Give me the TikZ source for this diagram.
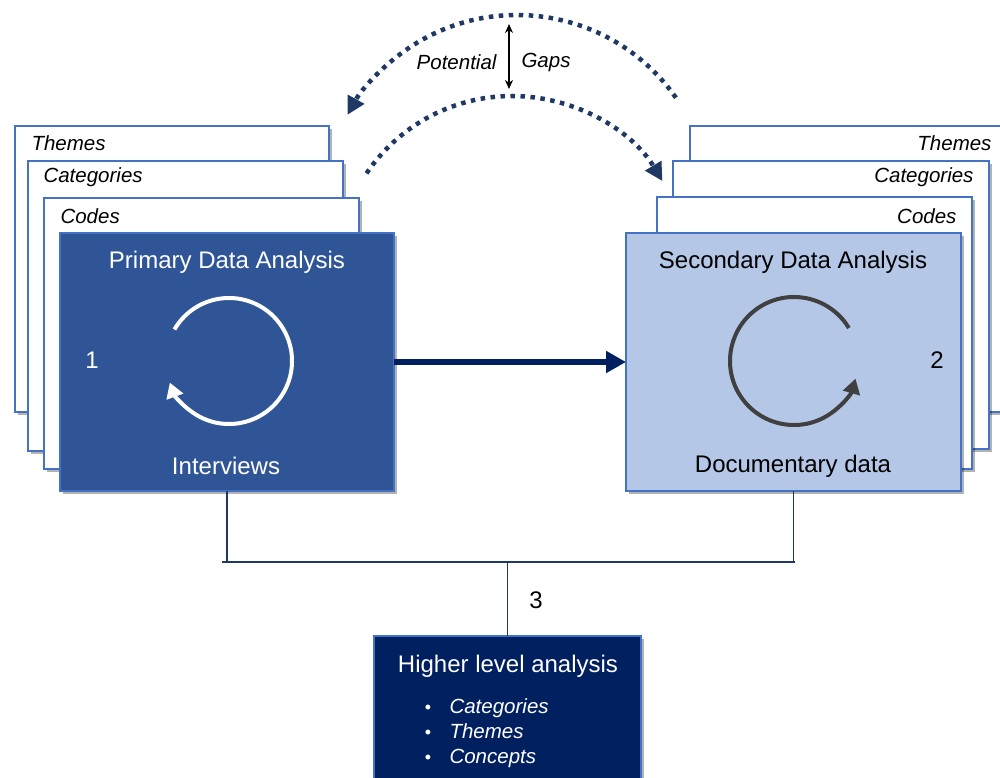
\documentclass[tikz,border=0pt]{standalone}
\usepackage{fontspec}
\setmainfont{Liberation Sans}
\usetikzlibrary{arrows.meta,shadows,calc}
\definecolor{primblue}{HTML}{2F5597}
\definecolor{secblue}{HTML}{B4C7E7}
\definecolor{edgeblue}{HTML}{4472C4}
\definecolor{navy}{HTML}{002060}
\definecolor{dotnavy}{HTML}{203864}
\definecolor{linenavy}{HTML}{1F3864}
\definecolor{loopgray}{HTML}{404040}
\begin{document}
\begin{tikzpicture}[x=1pt,y=1pt,
  sheet/.style={draw=edgeblue, line width=1.5pt, fill=white, inner sep=0pt, outer sep=0pt,
    drop shadow={shadow xshift=3pt, shadow yshift=-3pt, opacity=0.3, fill=black}},
  mainbox/.style={sheet, fill=#1},
  titlefont/.style={font=\fontsize{24}{28}\selectfont},
  labfont/.style={font=\fontsize{20.5}{24}\selectfont\itshape},
  loopline/.style={line width=4pt, -{Triangle[length=15pt,width=17pt]}},
  dotarc/.style={draw=dotnavy, line width=4.5pt, dash pattern=on 4.5pt off 5.5pt,
    -{Triangle[length=18pt,width=18pt]}},
  bracket/.style={draw=linenavy, line width=1.8pt}
]
\useasboundingbox (0,0) rectangle (1000,-778);

% left stack of sheets
\node[sheet, minimum width=314pt, minimum height=286pt] (themesL) at (172,-269) {};
\node[sheet, minimum width=315pt, minimum height=290pt] (catL) at (185.5,-306) {};
\node[sheet, minimum width=315pt, minimum height=271pt] (codesL) at (201.5,-333.5) {};
\node[mainbox=primblue, minimum width=334pt, minimum height=258pt] (primary) at (227,-362) {};

% right stack of sheets
\node[sheet, minimum width=320pt, minimum height=286pt] (themesR) at (850,-269) {};
\node[sheet, minimum width=316pt, minimum height=288pt] (catR) at (831,-305) {};
\node[sheet, minimum width=315pt, minimum height=272pt] (codesR) at (814.5,-333) {};
\node[mainbox=secblue, minimum width=335pt, minimum height=258pt] (secondary) at (793.5,-362) {};

% higher level box
\node[mainbox=navy, minimum width=267pt, minimum height=154pt] (higher) at (507.5,-713) {};

% sheet labels
\node[labfont, anchor=west] (tLt) at (28,-143) {Themes};
\node[labfont, anchor=west] (tLc) at (40,-177) {Categories};
\node[labfont, anchor=west] (tLk) at (57,-216) {Codes};
\node[labfont, anchor=east] (tRt) at (995,-143) {Themes};
\node[labfont, anchor=east] (tRc) at (977,-177) {Categories};
\node[labfont, anchor=east] (tRk) at (960,-216) {Codes};

% main box texts
\node[titlefont, text=white] (pT) at (227,-262) {Primary Data Analysis};
\node[titlefont, text=white] (pB) at (226,-466) {Interviews};
\node[titlefont, text=white] (n1) at (92,-360) {1};
\node[titlefont] (sT) at (793,-262) {Secondary Data Analysis};
\node[titlefont] (sB) at (793,-466) {Documentary data};
\node[titlefont] (n2) at (937,-360) {2};

% iteration loops
\draw[loopline, white] (229,-361) ++(150:63pt) arc[start angle=150, end angle=-160, radius=63pt];
\draw[loopline, loopgray] (794,-361) ++(31:64pt) arc[start angle=31, end angle=344, radius=64pt];

% primary to secondary
\draw[navy, line width=6pt, -{Triangle[length=20pt,width=21pt]}] (primary.east) -- (secondary.west);

% joining bracket
\coordinate (join) at (higher.north |- 0,-562);
\draw[bracket] (primary.south) -- (primary.south |- join);
\draw[bracket] (secondary.south) -- (secondary.south |- join);
\draw[bracket] ([xshift=-5pt]primary.south |- join) -- ([xshift=1pt]secondary.south |- join);
\draw[bracket] (join) -- (higher.north);
\node[titlefont] (n3) at (536,-600) {3};

% higher level texts
\node[titlefont, text=white] (hT) at (508,-666) {Higher level analysis};
\foreach \y/\w in {713/Categories, 738/Themes, 763/Concepts}{
  \node[font=\fontsize{18}{20}\selectfont, text=white, anchor=base] at (428,-\y) {•};
  \node[labfont, text=white, anchor=base west] at (446,-\y) {\w};
}

% potential gaps between the analyses
\coordinate (upS) at ($(517,-209)+(35:194pt)$);
\coordinate (loS) at ($(512,-271.5)+(146:175.5pt)$);
\draw[dotarc] (upS) arc[start angle=35, end angle=151, radius=194pt];
\draw[dotarc] (loS) arc[start angle=146, end angle=31, radius=175.5pt];
\coordinate (gapTop) at (509,-24);
\coordinate (gapBot) at (509,-89);
\draw[black, line width=2pt, {Stealth[length=9pt,width=8pt]}-{Stealth[length=9pt,width=8pt]}] (gapTop) -- (gapBot);
\node[labfont, anchor=east] (pot) at (500,-62) {Potential};
\node[labfont, anchor=west] (gaps) at (518,-62) {Gaps};
\end{tikzpicture}
\end{document}
